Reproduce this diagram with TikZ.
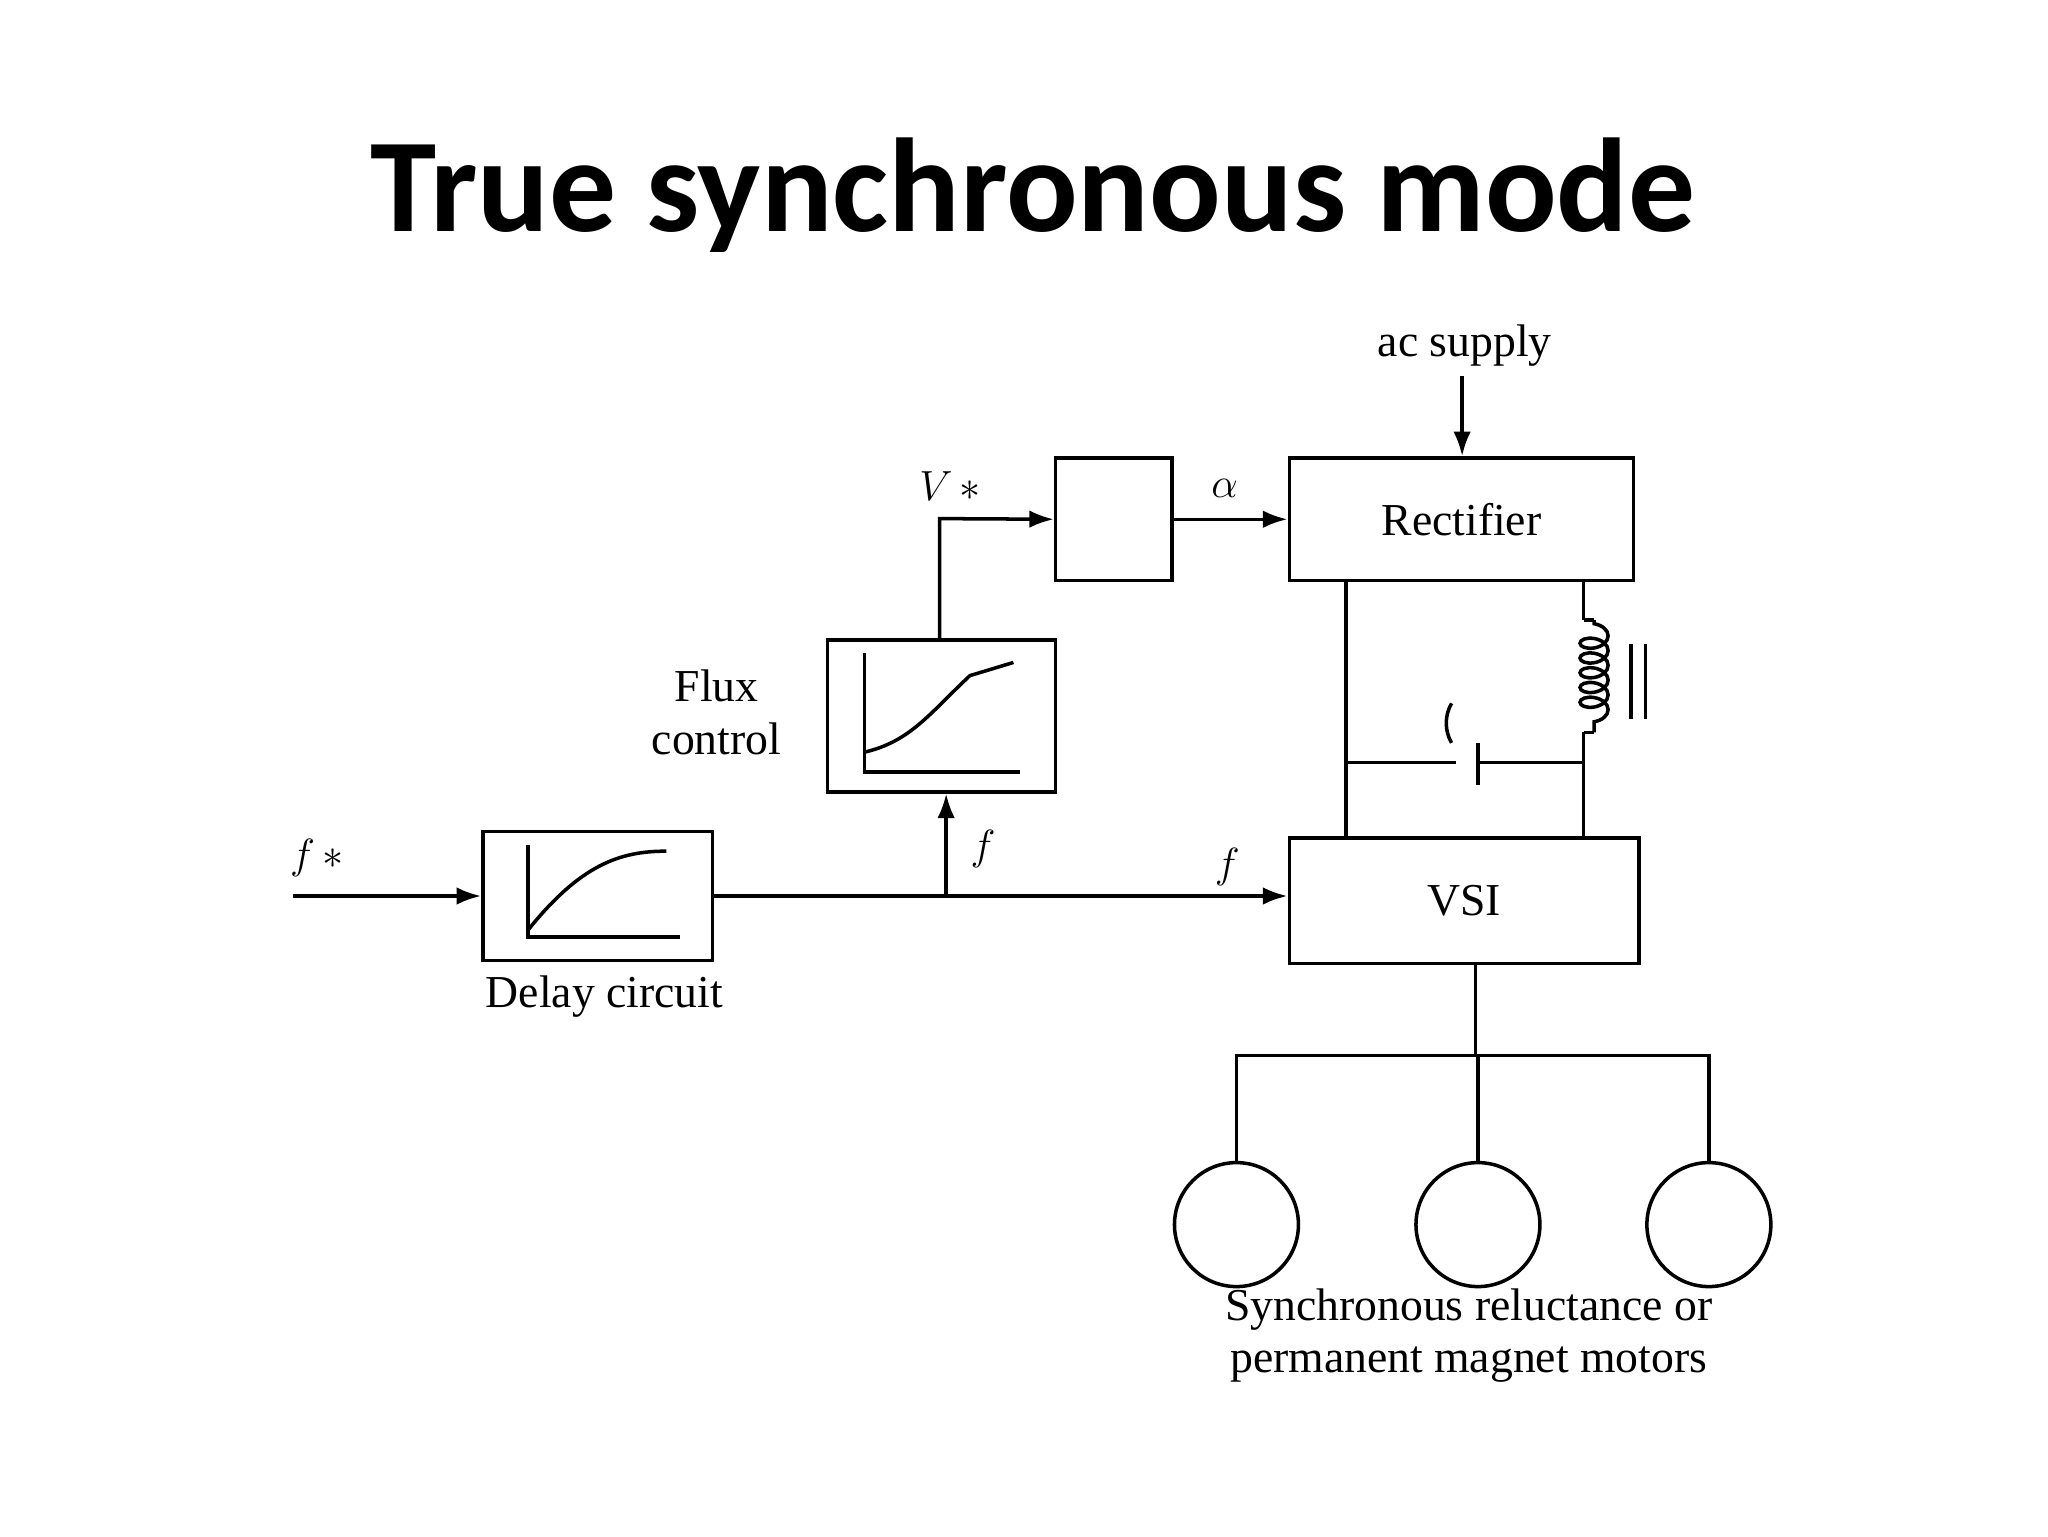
\documentclass[tikz,border=0pt]{standalone}
\usepackage{fontspec}
\setmainfont{Liberation Serif}
\newfontfamily\titlefont{Carlito}
\usetikzlibrary{arrows.meta,decorations.pathmorphing}
\begin{document}
\begin{tikzpicture}[x=0.013196cm,y=-0.013196cm,
  box/.style={draw,line width=1pt,inner sep=0pt},
  wire/.style={line width=1pt},
  arr/.style={wire,-{Latex[length=7pt,width=5pt]}},
  lbl/.style={font=\fontsize{13}{15}\selectfont},
  motor/.style={draw,line width=1pt,circle,minimum size=1.24cm,inner sep=0pt}]
\useasboundingbox (0,0) rectangle (1552,1164);
\node[font=\titlefont\bfseries\fontsize{38}{40}\selectfont] (title) at (783,148) {True synchronous mode};
\node[box,minimum width=3.444cm,minimum height=1.227cm,lbl] (rect) at (1107.5,393.5) {Rectifier};
\node[box,minimum width=1.161cm,minimum height=1.227cm] (ctl) at (844,393.5) {};
\node[box,minimum width=2.283cm,minimum height=1.518cm] (flux) at (713.5,542.5) {};
\node[box,minimum width=2.296cm,minimum height=1.293cm] (delay) at (453,679) {};
\node[box,minimum width=3.497cm,minimum height=1.254cm,lbl] (vsi) at (1109.5,682.5) {VSI};
\node[lbl] (ac) at (1110,262) {ac supply};
\coordinate (acs) at (1108,285);
\draw[arr] (acs) -- (acs |- rect.north);
\draw[arr] (ctl.east) -- (rect.west);
\node[lbl] (alpha) at (928,370) {$\alpha$};
\node[lbl] (vstar) at (720,368) {$V\,{*}$};
\coordinate (fl) at (712,393);
\draw[arr] (flux.north -| fl) -- (fl) -- (ctl.west);
\node[lbl,align=center] (fluxlbl) at (543,540) {Flux\\control};
\node[lbl] (delaylbl) at (458,755) {Delay circuit};
\node[lbl] (fstar) at (240,650) {$f\,{*}$};
\coordinate (fin) at (222,679);
\draw[arr] (fin) -- (delay.west);
\coordinate (j) at (717,679);
\draw[arr] (delay.east) -- (delay.east -| vsi.west);
\draw[arr] (j) -- (j |- flux.south);
\node[lbl] (f1) at (745,643) {$f$};
\node[lbl] (f2) at (930,657) {$f$};
% function curves
\draw[wire] (655,495) -- (655,585) -- (773,585);
\draw[wire] (655,570) .. controls (690,562) and (705,540) .. (735,512) -- (768,502);
\draw[wire] (400,640) -- (400,710) -- (515,710);
\draw[wire] (400,705) .. controls (440,655) and (470,645) .. (505,645);
% DC link
\coordinate (l1) at (1020,440); \coordinate (l2) at (1020,635);
\coordinate (r1) at (1200,440); \coordinate (r2) at (1200,635);
\draw[wire] (l1) -- (l2);
\draw[wire] (r1) -- (1200,470);
\draw[wire,decorate,decoration={coil,aspect=0.6,segment length=4.2pt,amplitude=4pt,pre length=1pt,post length=1pt}] (1208,470) -- (1208,555);
\draw[wire] (1200,555) -- (r2);
\draw[wire] (1200,470) -- (1208,470) (1200,555) -- (1208,555);
\draw[wire] (1236,488) -- (1236,545) (1247,488) -- (1247,545);
\draw[wire] (1020,578) -- (1103,578) (1120,578) -- (1200,578);
\draw[wire] (1100,563) arc[start angle=150,end angle=210,radius=30];
\draw[wire] (1120,563) -- (1120,595);
% motors
\node[motor] (m1) at (937,928) {};
\node[motor] (m2) at (1120,928) {};
\node[motor] (m3) at (1295,928) {};
\coordinate (bus) at (1118,800);
\draw[wire] (vsi.south -| bus) -- (bus);
\draw[wire] (m1.north) -- (m1.north |- bus) -- (m3.north |- bus) -- (m3.north);
\draw[wire] (m2.north) -- (m2.north |- bus);
\node[lbl,align=center] (motors) at (1113,1012) {Synchronous reluctance or\\permanent magnet motors};
\end{tikzpicture}
\end{document}
